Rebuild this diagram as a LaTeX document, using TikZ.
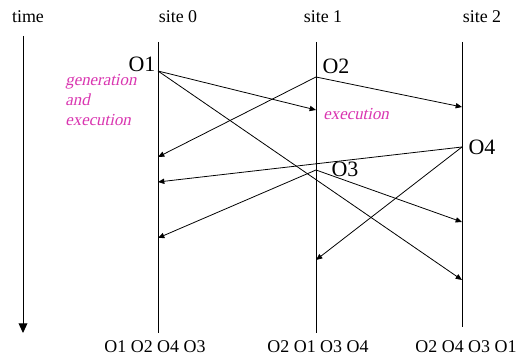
\documentclass[tikz,border=0pt]{standalone}
\usepackage{fontspec}
\setmainfont{Liberation Serif}
\newfontfamily\notefont{Liberation Serif}[FakeSlant=0.22]
\usepackage{xcolor}
\usepackage{tikz}
\usetikzlibrary{arrows.meta}
\definecolor{notemagenta}{RGB}{217,54,176}

\begin{document}
\begin{tikzpicture}[x=0.02cm,y=-0.02cm,>={Triangle[length=3.6pt,width=3pt]},
    msg/.style={->,line width=0.45pt},
    lbl/.style={font=\fontsize{10.2}{12}\selectfont},
    evt/.style={font=\fontsize{12.5}{14}\selectfont},
    note/.style={font=\notefont\fontsize{9.6}{11.3}\selectfont,text=notemagenta,align=left,inner sep=0pt}]
    \useasboundingbox (0,0) rectangle (518,357);

    % 站点横坐标
    \def\xA{158}
    \def\xB{316}
    \def\xC{462}
    \def\ytop{42}

    % 时间轴
    \node[lbl] (time) at (28,17) {time};
    \coordinate (tstart) at (23,36);
    \coordinate (tend) at (23,333);
    \draw[-{Triangle[length=5.5pt,width=5pt]},line width=0.5pt] (tstart) -- (tend);

    % 三个站点：竖线、标题与最终执行顺序
    \foreach \n/\x/\yb/\lx/\bx/\order in {0/\xA/333/178/155/O1 O2 O4 O3,
                                           1/\xB/333/323/318/O2 O1 O3 O4,
                                           2/\xC/327/482/466/O2 O4 O3 O1} {
        \coordinate (top\n) at (\x,\ytop);
        \coordinate (bot\n) at (\x,\yb);
        \draw[line width=0.5pt] (top\n) -- (bot\n);
        \node[lbl] (site\n) at (\lx,17) {site \n};
        \node[lbl] (order\n) at (\bx,347) {\order};
    }

    % 操作的产生点
    \coordinate (O1) at (\xA,71);
    \coordinate (O2) at (\xB,77);
    \coordinate (O4) at (\xC,147);
    \coordinate (O3) at (\xB,170);
    \node[evt] (lblO1) at (142,64) {O1};
    \node[evt] (lblO2) at (336,66) {O2};
    \node[evt] (lblO4) at (482,147) {O4};
    \node[evt] (lblO3) at (345,169) {O3};

    % 操作到达各站点的位置
    \coordinate (O1at1) at (\xB,110);
    \coordinate (O1at2) at (\xC,280);
    \coordinate (O2at0) at (\xA,157);
    \coordinate (O2at2) at (\xC,107);
    \coordinate (O4at0) at (\xA,182);
    \coordinate (O4at1) at (\xB,260);
    \coordinate (O3at0) at (\xA,238);
    \coordinate (O3at2) at (\xC,222);

    % 消息传播箭头
    \foreach \s/\t in {O1/O1at1, O1/O1at2, O2/O2at0, O2/O2at2,
                       O4/O4at0, O4/O4at1, O3/O3at0, O3/O3at2}
        \draw[msg] (\s) -- (\t);

    % 说明文字（洋红色）
    \node[note,anchor=west] (gennote) at (65,100) {generation\\and\\execution};
    \node[note,anchor=west] (execnote) at (323,114) {execution};
\end{tikzpicture}
\end{document}
